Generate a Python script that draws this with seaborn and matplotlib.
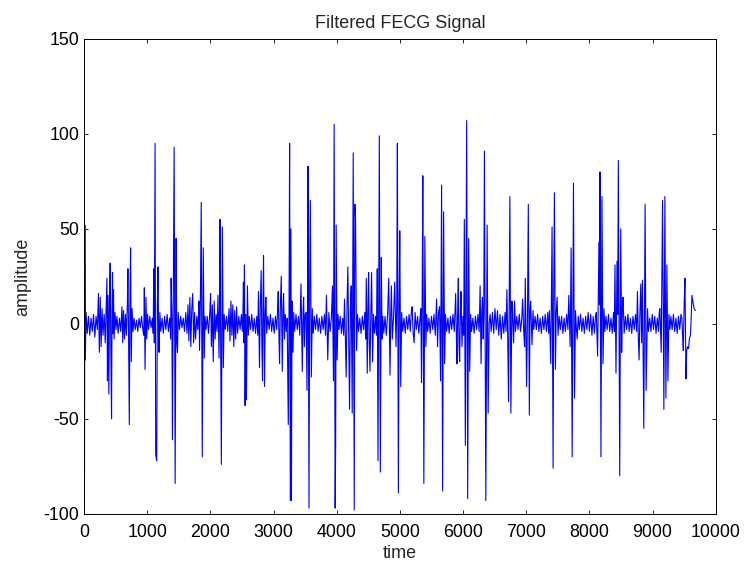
import numpy as np
import pandas as pd
import matplotlib
matplotlib.use("Agg")
import matplotlib.pyplot as plt
import seaborn as sns


# signal vertices (sample index, amplitude)
time = [
    0, 6, 12, 20, 32, 50, 70, 90, 110, 130, 150, 170, 190, 210, 228, 242, 256, 270, 285, 300, 318,
    335, 352, 362, 370, 380, 392, 402, 413, 424, 435, 443, 450, 458, 466, 475, 490, 505, 520,
    540, 560, 580, 600, 612, 625, 640, 655, 670,
    685, 694, 705, 716, 727, 737, 747, 760, 775, 790,
    810, 830, 850, 870, 890, 910, 930,
    945, 954, 965, 980, 992, 1005,
    1020, 1040, 1060, 1080,
    1095, 1102, 1112, 1124, 1134, 1150, 1160, 1171, 1180, 1187, 1200,
    1215, 1235, 1255, 1275, 1295, 1315, 1335, 1355,
    1370, 1378, 1390, 1399, 1412, 1426, 1442, 1457, 1468, 1479, 1490,
    1510, 1530, 1550, 1570, 1590, 1610, 1630, 1645, 1660, 1675, 1690, 1705, 1720, 1735, 1750, 1765, 1785, 1800,
    1812, 1818, 1828, 1840, 1855, 1871, 1887, 1903, 1915,
    1930, 1950, 1970, 1990, 2003, 2015, 2030, 2045, 2060, 2075, 2090, 2105,
    2120, 2136, 2145, 2152, 2163, 2173, 2189, 2205, 2218,
    2235, 2255, 2275, 2295, 2310, 2325, 2340, 2355, 2370, 2385, 2400, 2415, 2430, 2450, 2470, 2490, 2505,
    2515, 2523, 2532, 2539, 2549, 2560, 2570, 2586, 2600, 2615,
    2635, 2655, 2675, 2695, 2715, 2735, 2750,
    2761, 2777, 2790, 2804, 2815, 2825, 2834, 2841, 2851, 2857, 2868, 2878, 2892,
    2910, 2930, 2950, 2970, 2990, 3010, 3030, 3050, 3062,
    3074, 3085, 3095, 3108, 3122, 3138, 3150, 3159, 3172, 3185,
    3200, 3215,
    3233, 3245, 3254, 3265, 3275, 3283, 3292, 3307, 3320,
    3335, 3355, 3375, 3395, 3415,
    3434, 3455, 3466, 3476, 3487, 3500,
    3515, 3529, 3537, 3545, 3561, 3572, 3582, 3598, 3614, 3628,
    3645, 3665, 3685, 3705, 3725, 3745, 3765, 3785, 3805, 3822,
    3837, 3848, 3858, 3875, 3895, 3915,
    3932, 3948, 3959, 3975, 3983, 3991, 4006, 4020,
    4035, 4055, 4075, 4095, 4110,
    4123, 4136, 4150, 4163, 4176, 4190, 4203, 4216, 4229, 4245, 4261, 4277, 4287, 4298, 4314, 4330,
    4345, 4365, 4385, 4405, 4425, 4445, 4458,
    4468, 4483, 4494, 4505, 4515, 4526, 4540, 4552, 4568, 4582,
    4598, 4615, 4630,
    4642, 4653, 4664, 4674, 4690, 4706, 4717, 4730,
    4745, 4765, 4785, 4805,
    4823, 4844, 4855, 4865, 4880,
    4900, 4918, 4939, 4950, 4960, 4976, 4988, 4998, 5013, 5028,
    5045, 5065, 5085, 5105, 5125, 5145, 5165, 5180, 5194, 5210, 5225, 5240, 5260, 5280, 5300, 5318,
    5332, 5342, 5352, 5363, 5379, 5395, 5411, 5425,
    5440, 5460, 5480, 5500, 5520, 5540, 5560, 5581, 5596, 5612,
    5628, 5644, 5660, 5676, 5692, 5708, 5722,
    5740, 5760, 5780, 5800, 5820, 5840, 5860, 5872,
    5883, 5894, 5904, 5915, 5925, 5935, 5946, 5957, 5967, 5983, 5998,
    6010, 6020, 6036, 6046, 6057, 6073, 6089, 6105, 6120,
    6135, 6155, 6175, 6195, 6215, 6235, 6255,
    6270, 6285, 6296, 6307, 6318, 6328, 6338, 6360, 6381, 6397, 6413, 6428,
    6445, 6465, 6485, 6505, 6525, 6545, 6565, 6585, 6605, 6625, 6645, 6665, 6680,
    6694, 6706, 6720, 6730, 6741, 6757, 6773, 6785, 6800, 6815, 6830,
    6850, 6870, 6890, 6910, 6930,
    6943, 6960, 6974, 6985, 7006, 7020, 7033, 7049, 7060, 7070, 7091, 7107, 7120,
    7140, 7160, 7180, 7200, 7220, 7240, 7260, 7280, 7300, 7320, 7340, 7355,
    7367, 7388, 7398, 7409, 7425, 7435, 7446, 7462, 7475, 7489, 7504, 7520,
    7540, 7560, 7580, 7600, 7620, 7640, 7660,
    7674, 7695, 7711, 7727, 7738, 7748, 7764, 7780, 7795, 7807, 7822,
    7840, 7860, 7880, 7900, 7920, 7940, 7960, 7980, 8000, 8020, 8040, 8060, 8080, 8095,
    8109, 8130, 8151, 8160, 8167, 8183, 8199, 8215, 8231, 8245,
    8262, 8282, 8302, 8322, 8342, 8362, 8382, 8395,
    8405, 8421, 8437, 8448, 8458, 8480, 8496, 8511, 8522, 8533, 8550,
    8570, 8590, 8610, 8630, 8650, 8670, 8690, 8710, 8730, 8748,
    8761, 8775, 8787, 8800, 8814, 8826, 8840, 8861, 8882, 8898, 8920, 8935,
    8955, 8975, 8995, 9015, 9035, 9055, 9075, 9095, 9105,
    9116, 9137, 9158, 9179, 9195, 9211, 9227, 9243, 9259, 9275,
    9290, 9310, 9330, 9350, 9370, 9390, 9410, 9430, 9450,
    9465, 9475, 9487, 9500, 9513, 9529, 9540, 9556, 9570, 9582, 9600, 9610, 9624, 9646, 9660, 9677,
]

amplitude = [
    56, -100, 52, -19, 6, -5, 4, -6, 3, -4, 5, -7, 4, -3, 16, -15, 14, -12, 8, -6, 5,
    -10, 12, 24, -30, 15, -37, 10, 32, -15, -50, 8, 27, -5, 18, -8, 6, -3, 4,
    -5, 3, -4, 9, -10, 7, -8, 5, -6,
    10, 29, -8, -53, 15, 40, -20, 8, -4, 3,
    -3, 2, -4, 3, -2, 4, -3,
    -6, 19, -24, 14, -8, 5,
    -3, 4, -2, 3,
    -5, 29, -10, 95, -69, -72, 10, 30, -6, -15, 6,
    -4, 3, -5, 4, -3, 5, -4, 3,
    -8, 24, 5, -61, 12, 93, -84, 45, -10, -15, 6,
    -3, 4, -2, 3, -4, 6, -5, 10, -9, 14, -12, 8, 16, -10, 6, -8, 4, -3,
    5, 12, -14, 8, 64, -70, 40, -18, 4,
    -3, 4, -5, 6, 16, -12, 10, -20, 12, -8, 5, -4,
    15, -18, 8, 55, -10, -74, 51, -23, 5,
    -3, 4, -4, 8, -9, 12, -6, 10, -12, 7, -8, 9, -5, 4, -3, 5, -4,
    6, 22, -10, 31, -43, 5, -40, 20, -6, 4,
    -3, 5, -4, 3, -5, 4, -6,
    17, -23, 10, 28, -12, -30, 15, 36, -8, -33, 6, 14, -5,
    4, -3, 5, -4, 3, -5, 4, -3, 6,
    17, -6, -21, 10, 25, -25, 8, 16, -8, 5,
    -4, 3,
    -53, 10, 95, -93, 50, -93, 12, -15, 6,
    -4, 5, -3, 4, -6,
    21, -25, 6, 14, -12, 5,
    6, -35, 10, 83, -97, 20, 65, -28, 8, -5,
    4, -3, 5, -4, 3, -5, 4, -3, 5, -6,
    15, -4, -19, 6, -4, 3,
    20, -30, 105, -97, -64, 52, -19, 5,
    -3, 4, -5, 3, -6,
    13, -8, -28, 10, 30, -10, -45, 8, 20, -47, 90, -98, 63, 55, -14, 5,
    -4, 3, -5, 4, -3, 6, -8,
    24, -26, 8, 27, -10, -25, 6, 27, -20, 5,
    -5, 4, -6,
    29, -72, 8, 99, -78, 35, -8, 4,
    -5, 4, -6, 5,
    24, -27, 5, 20, -8,
    4, 22, -12, 10, 95, -89, 10, 49, -33, 6,
    -4, 3, -5, 4, -3, 5, -4, 6, 9, -5, -10, 6, -3, 4, -5, 3,
    8, -31, 12, 78, -84, 46, -12, 5,
    -4, 3, -5, 4, -3, 5, -6, 13, -12, 6,
    9, -30, 73, -88, 59, -21, 5,
    -4, 3, -5, 4, -3, 5, -4, 6,
    16, -6, -21, 8, 24, -10, -20, 5, 17, -12, 4,
    -6, 55, -64, 12, 107, -92, 45, -25, 5,
    -4, 3, -5, 4, -3, 5, -4,
    20, -21, 6, 14, -8, 5, 91, -93, 52, -47, 0, 5,
    -4, 6, -5, 8, -3, 7, -6, 5, -8, 4, -5, 6, -4,
    18, -5, -41, 10, 67, -47, 12, 4, -10, 12, -4,
    4, -3, 5, -4, 3,
    13, -4, -12, 24, -33, 5, 63, -48, 8, 12, -11, 7, -3,
    4, -3, 5, -4, 3, -5, 4, -3, 5, -4, 6, -5,
    7, -21, 12, 51, -76, 15, 69, -24, 6, 14, -6, 4,
    -3, 4, -5, 3, -4, 5, -3,
    15, -12, 40, -70, 10, 74, -39, 7, -3, -8, 4,
    -3, 5, -4, 3, -5, 4, -3, 6, -4, 5, -6, 4, -5, 3,
    6, -17, 43, 10, 80, -70, 67, -21, 8, -4,
    4, -3, 5, -4, 3, -5, 6, -4,
    31, -26, 33, 5, 86, -80, 50, -15, 8, 14, -5,
    4, -3, 5, -4, 3, -5, 4, -3, 5, -4,
    17, -8, -19, 6, 21, -10, 23, -55, 63, -35, 8, -4,
    3, -4, 5, -3, 4, -5, 3, -4, 6,
    8, -15, 65, -45, 67, -39, 31, -30, 5, -3,
    4, -3, 5, -4, 3, -5, 4, -3, 5,
    3, -6, -14, 10, 24, -29, -14, -12, -13, -8, -6, 2, 15, 10, 8, 7,
]

x_ticks = [0, 1000, 2000, 3000, 4000, 5000, 6000, 7000, 8000, 9000, 10000]
y_ticks = [-100, -50, 0, 50, 100, 150]

assert len(time) == len(amplitude)

sns.set_theme(style="ticks")
plt.rcParams['font.family'] = ['Liberation Sans', 'DejaVu Sans']
plt.rcParams['xtick.direction'] = 'in'
plt.rcParams['ytick.direction'] = 'in'
plt.rcParams['axes.unicode_minus'] = False

df = pd.DataFrame({'time': time, 'amplitude': amplitude})

fig, ax = plt.subplots(figsize=(7.44, 5.64), dpi=100)
fig.subplots_adjust(left=0.113, right=0.962, bottom=0.089, top=0.931)

sns.lineplot(data=df, x='time', y='amplitude', ax=ax, color='#0000ff',
             linewidth=0.8, sort=False, estimator=None)

ax.set_xlim(0, 10000)
ax.set_ylim(-100, 150)
ax.set_xticks(x_ticks)
ax.set_yticks(y_ticks)
ax.tick_params(axis='both', which='both', top=True, right=True, length=3,
               width=0.6, labelsize=12.8, colors='black')
ax.tick_params(axis='x', pad=7.2)
ax.tick_params(axis='y', pad=3.5)
for spine in ax.spines.values():
    spine.set_visible(True)
    spine.set_color('black')
    spine.set_linewidth(0.7)

ax.set_title("Filtered FECG Signal", fontsize=13, pad=8)
ax.set_xlabel("time", fontsize=13, labelpad=3)
ax.set_ylabel("amplitude", fontsize=13, labelpad=9)

fig.savefig("out.png", dpi=100)
